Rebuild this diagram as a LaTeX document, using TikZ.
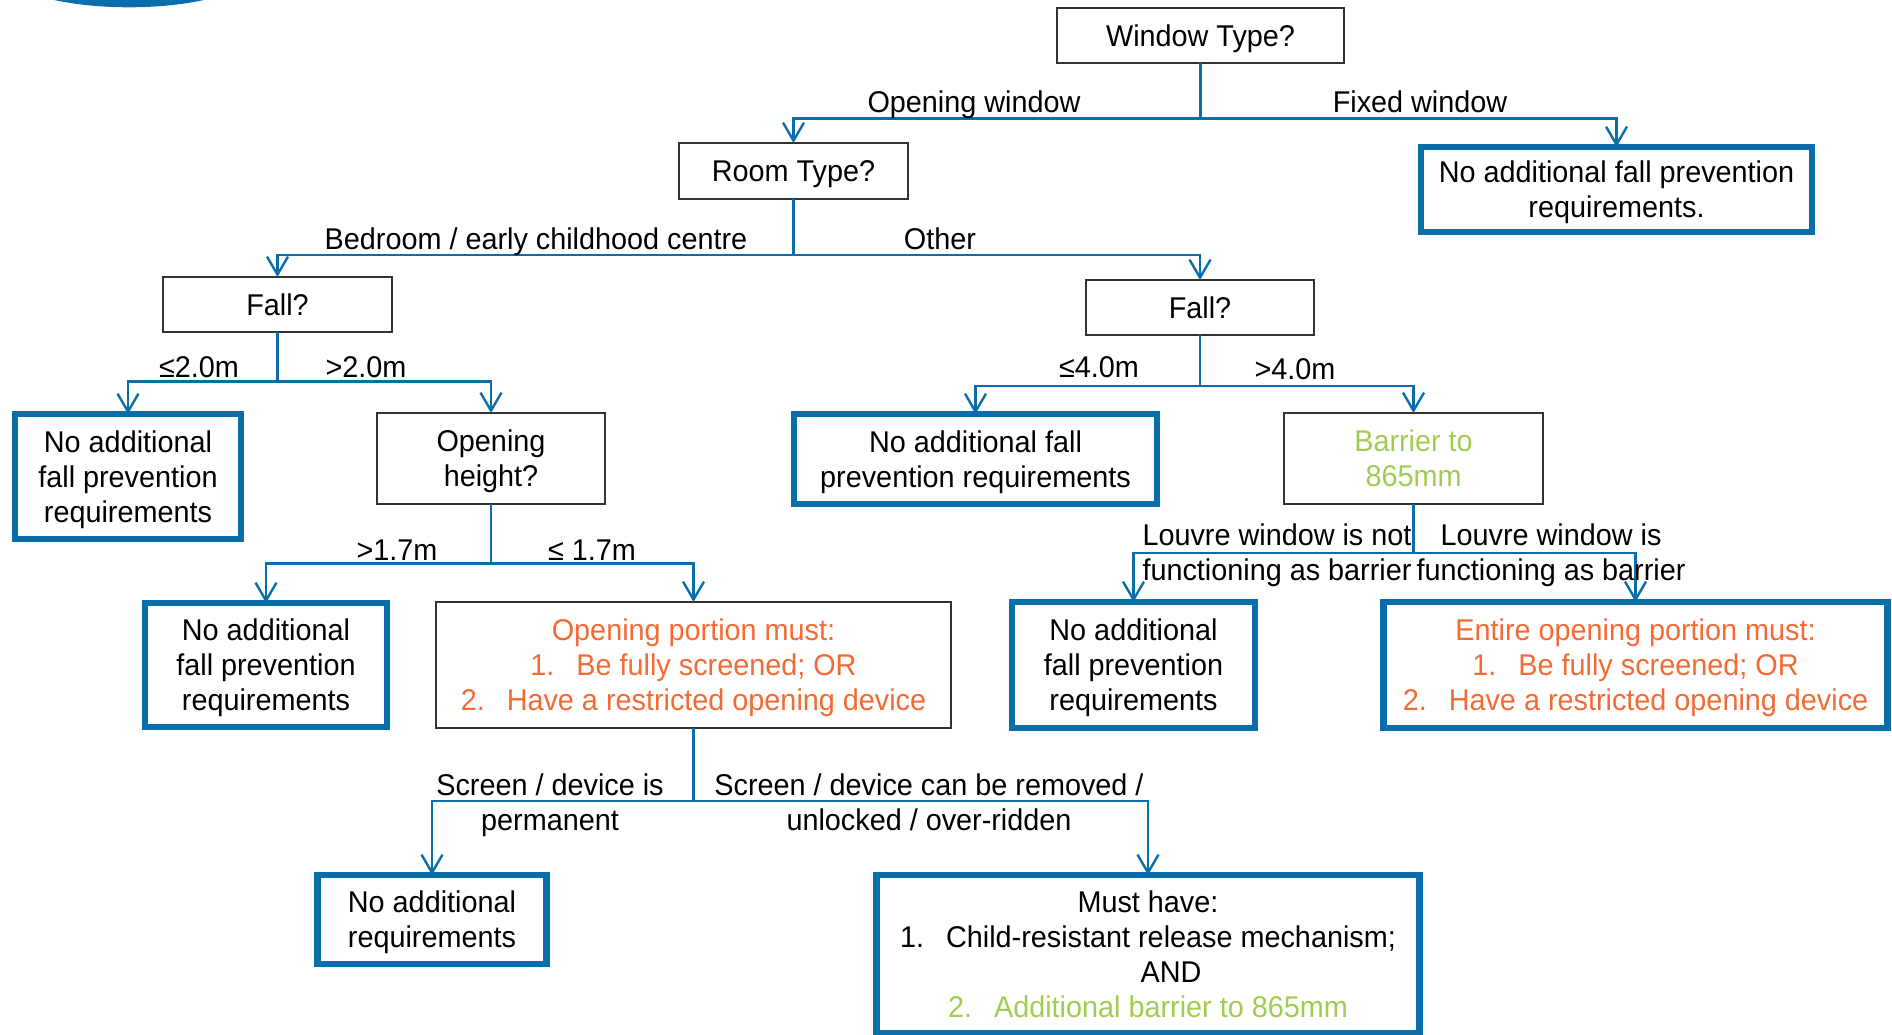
\documentclass[tikz,border=0pt]{standalone}
\usepackage{fontspec}
\setmainfont[FakeStretch=0.96]{Liberation Sans}
\usetikzlibrary{arrows.meta}
\definecolor{flowblue}{HTML}{0B6EAC}
\definecolor{warnorange}{HTML}{F26B35}
\definecolor{barriergreen}{HTML}{A0CC50}
\definecolor{boxdark}{HTML}{333333}
\tikzset{
  x=1pt,y=-1pt,
  every node/.style={font=\fontsize{30}{35}\selectfont,align=center,inner sep=0pt,outer sep=0pt,text depth=0pt},
  qbox/.style={draw=boxdark,line width=1.6pt},
  endbox/.style={draw=flowblue,line width=6.8pt},
  trunk/.style={draw=flowblue,line width=2.6pt},
  branch/.style={draw=flowblue,line width=2.6pt,-{Straight Barb[length=18pt,width=21pt,line width=2.4pt]}},
  lbl/.style={},
  orangetxt/.style={text=warnorange},
  greentxt/.style={text=barriergreen}
}
\newcommand{\numgap}{\hspace{22pt}}
\begin{document}
\begin{tikzpicture}
\useasboundingbox (0,0) rectangle (1892,1035);
% logo fragment
\begin{scope}
\clip (0,0) rectangle (400,10);
\fill[flowblue] (129,-32.7) ellipse [x radius=130pt,y radius=40pt];
\end{scope}
% question boxes
\node[qbox,minimum width=287pt,minimum height=55pt] (win) at (1200.5,35.5) {Window Type?};
\node[qbox,minimum width=229pt,minimum height=56pt] (room) at (793.5,171) {Room Type?};
\node[qbox,minimum width=229pt,minimum height=55pt] (fallL) at (277.5,304.5) {Fall?};
\node[qbox,minimum width=228pt,minimum height=55pt] (fallR) at (1200,307.5) {Fall?};
\node[qbox,minimum width=228.5pt,minimum height=91pt] (oh) at (491,458.5) {Opening\\height?};
\node[qbox,minimum width=259pt,minimum height=91pt,greentxt] (barrier) at (1413.5,458.5) {Barrier to\\865mm};
\node[qbox,minimum width=515pt,minimum height=126pt,orangetxt] (portion) at (693.5,665) {Opening portion must:\\1.\numgap Be fully screened; OR\\2.\numgap Have a restricted opening device};
% end boxes
\node[endbox,minimum width=391pt,minimum height=85pt] (fixed) at (1616.5,189.5) {No additional fall prevention\\requirements.};
\node[endbox,minimum width=226pt,minimum height=125pt] (nL) at (128,476.5) {No additional\\fall prevention\\requirements};
\node[endbox,minimum width=363pt,minimum height=90pt] (nM) at (975.5,459) {No additional fall\\prevention requirements};
\node[endbox,minimum width=242pt,minimum height=124pt] (nOH) at (266,665) {No additional\\fall prevention\\requirements};
\node[endbox,minimum width=243pt,minimum height=126pt] (nR) at (1133.5,665) {No additional\\fall prevention\\requirements};
\node[endbox,minimum width=504pt,minimum height=126pt,orangetxt] (entire) at (1635.5,665) {Entire opening portion must:\\1.\numgap Be fully screened; OR\\2.\numgap Have a restricted opening device};
\node[endbox,minimum width=228.5pt,minimum height=89pt] (nB) at (432,919.5) {No additional\\requirements};
\node[endbox,minimum width=542.5pt,minimum height=158pt] (must) at (1148,954) {Must have:\\1.\numgap Child-resistant release mechanism;\\\hspace*{46pt}AND\\\textcolor{barriergreen}{2.\numgap Additional barrier to 865mm}};
% junctions
\coordinate (j1) at (win.south |- 0,118.5);
\coordinate (j2) at (room.south |- 0,255);
\coordinate (j3) at (fallL.south |- 0,381.5);
\coordinate (j4) at (fallR.south |- 0,386);
\coordinate (j5) at (oh.south |- 0,563.5);
\coordinate (j6) at (barrier.south |- 0,553);
\coordinate (j7) at (portion.south |- 0,801);
% connectors
\draw[trunk] (win.south) -- (j1);
\draw[branch] (j1) -| (room.north);
\draw[branch] (j1) -| (fixed.north);
\draw[trunk] (room.south) -- (j2);
\draw[branch] (j2) -| (fallL.north);
\draw[branch] (j2) -| (fallR.north);
\draw[trunk] (fallL.south) -- (j3);
\draw[branch] (j3) -| (nL.north);
\draw[branch] (j3) -| (oh.north);
\draw[trunk] (fallR.south) -- (j4);
\draw[branch] (j4) -| (nM.north);
\draw[branch] (j4) -| (barrier.north);
\draw[trunk] (oh.south) -- (j5);
\draw[branch] (j5) -| (nOH.north);
\draw[branch] (j5) -| (portion.north);
\draw[trunk] (barrier.south) -- (j6);
\draw[branch] (j6) -| (nR.north);
\draw[branch] (j6) -| (entire.north);
\draw[trunk] (portion.south) -- (j7);
\draw[branch] (j7) -| (nB.north);
\draw[branch] (j7) -| (must.north);
% labels
\node[lbl] (l1) at (974,102) {Opening window};
\node[lbl] (l2) at (1420,102) {Fixed window};
\node[lbl] (l3) at (536,239) {Bedroom / early childhood centre};
\node[lbl] (l4) at (940,239) {Other};
\node[lbl] (l5) at (199,367) {≤2.0m};
\node[lbl] (l6) at (366,367) {>2.0m};
\node[lbl] (l7) at (1099,367) {≤4.0m};
\node[lbl] (l8) at (1295,369) {>4.0m};
\node[lbl] (l9) at (397,550) {>1.7m};
\node[lbl] (l10) at (592,550) {≤ 1.7m};
\node[lbl] (l11) at (1277,552.5) {Louvre window is not\\functioning as barrier};
\node[lbl] (l12) at (1551,552.5) {Louvre window is\\functioning as barrier};
\node[lbl] (l13) at (550,802) {Screen / device is\\permanent};
\node[lbl] (l14) at (929,802) {Screen / device can be removed /\\unlocked / over-ridden};
\end{tikzpicture}
\end{document}
